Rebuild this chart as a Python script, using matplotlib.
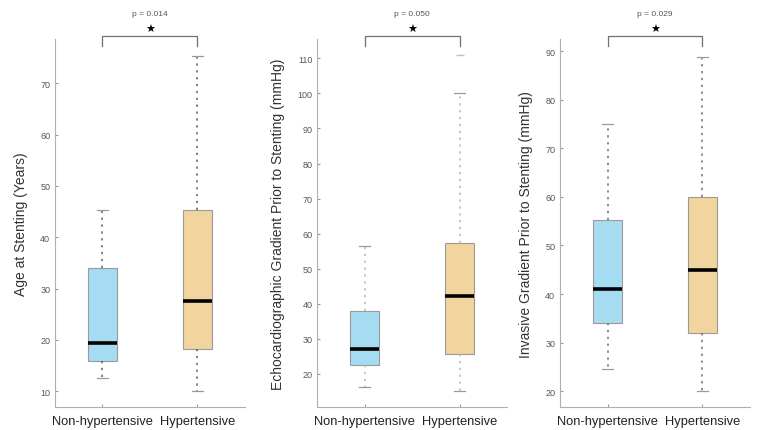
import matplotlib
matplotlib.use("Agg")
import matplotlib.pyplot as plt

plt.rcParams['font.family'] = ['Liberation Sans', 'DejaVu Sans']

groups = ['Non-hypertensive', 'Hypertensive']

# box stats per panel: (low whisker, Q1, median, Q3, high whisker)
age_non = [12.5, 15.9, 19.4, 34.0, 45.3]
age_hyp = [10.0, 18.2, 27.6, 45.3, 75.3]
echo_non = [16.2, 22.5, 27.1, 38.0, 56.5]
echo_hyp = [15.0, 25.8, 42.2, 57.4, 100.0]
echo_hyp_outliers = [111.0]
inv_non = [24.5, 34.0, 41.0, 55.2, 75.0]
inv_hyp = [20.0, 32.0, 45.0, 60.0, 88.8]

ylabels = ['Age at Stenting (Years)',
           'Echocardiographic Gradient Prior to Stenting (mmHg)',
           'Invasive Gradient Prior to Stenting (mmHg)']
pvalues = ['p = 0.014', 'p = 0.050', 'p = 0.029']
yticks = [list(range(10, 71, 10)), list(range(20, 111, 10)), list(range(20, 91, 10))]
ylims = [(6.9, 78.6), (10.5, 115.5), (16.7, 92.5)]

panels = [(age_non, age_hyp, []), (echo_non, echo_hyp, echo_hyp_outliers),
          (inv_non, inv_hyp, [])]

colors = ['#a6dcf2', '#f2d59e']
grey = '#9a9a9a'
whisker_colors = ['#606060', '#b8b8b8', '#707070']

fig = plt.figure(figsize=(7.59, 4.31), dpi=100)
lefts = [0.0725, 0.418, 0.738]
width = 0.25
bottom, height = 0.053, 0.854

for i, (non, hyp, outl) in enumerate(panels):
    ax = fig.add_axes([lefts[i], bottom, width, height])
    stats = []
    for j, s in enumerate([non, hyp]):
        stats.append(dict(whislo=s[0], q1=s[1], med=s[2], q3=s[3], whishi=s[4],
                          fliers=outl if j == 1 else [], label=groups[j]))
    bp = ax.bxp(stats, positions=[1, 2], widths=0.31, patch_artist=True,
                showfliers=True,
                boxprops=dict(edgecolor=grey, linewidth=0.8),
                medianprops=dict(color='black', linewidth=2.6),
                whiskerprops=dict(color=whisker_colors[i], linewidth=1.1,
                                  linestyle=(0, (1.5, 3))),
                capprops=dict(color=grey, linewidth=0.9),
                capwidths=0.12,
                flierprops=dict(marker='_', markeredgecolor='#c0c0c0', markersize=6))
    for patch, c in zip(bp['boxes'], colors):
        patch.set_facecolor(c)

    ax.set_xlim(0.5, 2.5)
    ax.set_ylim(*ylims[i])
    ax.set_yticks(yticks[i])
    ax.set_xticks([1, 2])
    ax.set_xticklabels(groups, fontsize=9.3, color='#222222')
    ax.tick_params(axis='y', labelsize=6.5, labelcolor='#555555', direction='in',
                   length=2, color=grey)
    ax.tick_params(axis='x', direction='in', length=2, color=grey, pad=6)
    for sp in ['top', 'right']:
        ax.spines[sp].set_visible(False)
    for sp in ['left', 'bottom']:
        ax.spines[sp].set_color('#b0b0b0')
        ax.spines[sp].set_linewidth(0.8)
    ax.set_ylabel(ylabels[i], fontsize=10, color='#333333', labelpad=9)

    # significance bracket
    tr = ax.get_xaxis_transform()
    ax.plot([1, 1, 2, 2], [0.981, 1.008, 1.008, 0.981], color='#707070',
            linewidth=0.9, transform=tr, clip_on=False)
    ax.text(1.5, 1.027, '\u2605', transform=tr, ha='center', va='center',
            fontsize=8, color='black', family=['DejaVu Sans'])
    ax.text(1.5, 1.07, pvalues[i], transform=tr, ha='center', va='center',
            fontsize=6, color='#555555')

fig.savefig('out.png', dpi=100)
